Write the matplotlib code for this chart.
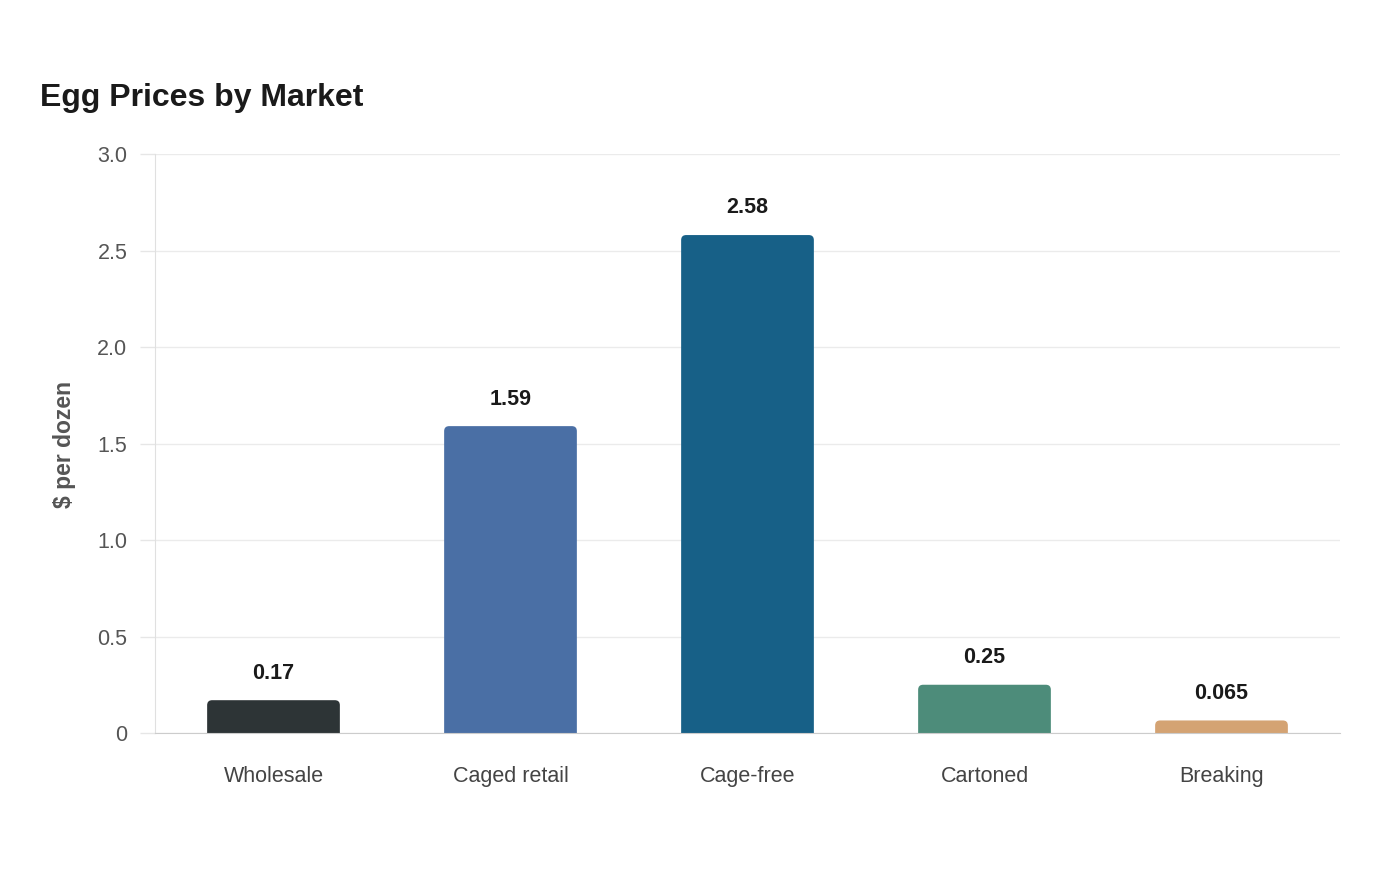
import matplotlib
matplotlib.use('Agg')
import matplotlib.pyplot as plt
from matplotlib.path import Path
from matplotlib.patches import PathPatch

categories = ['Wholesale', 'Caged retail', 'Cage-free', 'Cartoned', 'Breaking']
prices = [0.17, 1.59, 2.58, 0.25, 0.065]
value_labels = ['0.17', '1.59', '2.58', '0.25', '0.065']
colors = ['#2d3436', '#4a6fa5', '#176087', '#4d8c7a', '#d4a373']
y_ticks = [0, 0.5, 1.0, 1.5, 2.0, 2.5, 3.0]
y_tick_labels = ['0', '0.5', '1.0', '1.5', '2.0', '2.5', '3.0']

plt.rcParams['font.family'] = ['Liberation Sans', 'DejaVu Sans']

fig = plt.figure(figsize=(14, 8.8), dpi=100)
ax = fig.add_axes([155 / 1400, 1 - 733 / 880, 1185 / 1400, 579 / 880])
ax.set_xlim(-0.5, len(categories) - 0.5)
ax.set_ylim(0, 3.0)

bar_w = 0.56
radius_px = 5
# pixel scale of the data units, for the rounded top corners
x_px = ax.transData.transform((1, 0))[0] - ax.transData.transform((0, 0))[0]
y_px = ax.transData.transform((0, 1))[1] - ax.transData.transform((0, 0))[1]
rx = radius_px / x_px
ry = radius_px / y_px

bars = ax.bar(range(len(categories)), prices, width=bar_w, color=colors, alpha=0)
for rect, col in zip(bars, colors):
    x0 = rect.get_x()
    x1 = x0 + rect.get_width()
    h = rect.get_height()
    r_y = min(ry, h)
    verts = [(x0, 0), (x0, h - r_y), (x0, h), (x0 + rx, h),
             (x1 - rx, h), (x1, h), (x1, h - r_y), (x1, 0), (x0, 0)]
    codes = [Path.MOVETO, Path.LINETO, Path.CURVE3, Path.CURVE3,
             Path.LINETO, Path.CURVE3, Path.CURVE3, Path.LINETO, Path.CLOSEPOLY]
    ax.add_patch(PathPatch(Path(verts, codes), facecolor=col, edgecolor='none', zorder=3))

for i, (v, lab) in enumerate(zip(prices, value_labels)):
    ax.annotate(lab, (i, v), xytext=(0, 19.5), textcoords='offset points',
                ha='center', va='center', fontsize=15.5, fontweight='bold', color='#1a1a1a')

ax.set_yticks(y_ticks)
ax.set_yticklabels(y_tick_labels)
ax.set_xticks(range(len(categories)))
ax.set_xticklabels(categories)
ax.tick_params(axis='y', length=10.8, color='#e6e6e6', width=1, pad=9,
               labelsize=15.5, labelcolor='#555555')
ax.tick_params(axis='x', length=0, pad=23.5, labelsize=15.5, labelcolor='#444444')
ax.grid(axis='y', color='#ebebeb', linewidth=1, zorder=0)
ax.set_axisbelow(True)

for s in ['top', 'right']:
    ax.spines[s].set_visible(False)
ax.spines['left'].set_color('#e0e0e0')
ax.spines['bottom'].set_color('#cccccc')
ax.spines['bottom'].set_zorder(4)

fig.text(64 / 1400, 1 - 444 / 880, '$ per dozen', rotation=90, ha='center', va='center',
         fontsize=16.5, fontweight='bold', color='#555555')
fig.text(40 / 1400, 1 - 98 / 880, 'Egg Prices by Market', ha='left', va='center',
         fontsize=23, fontweight='bold', color='#1a1a1a')

fig.savefig('out.png', dpi=100, facecolor='white')
